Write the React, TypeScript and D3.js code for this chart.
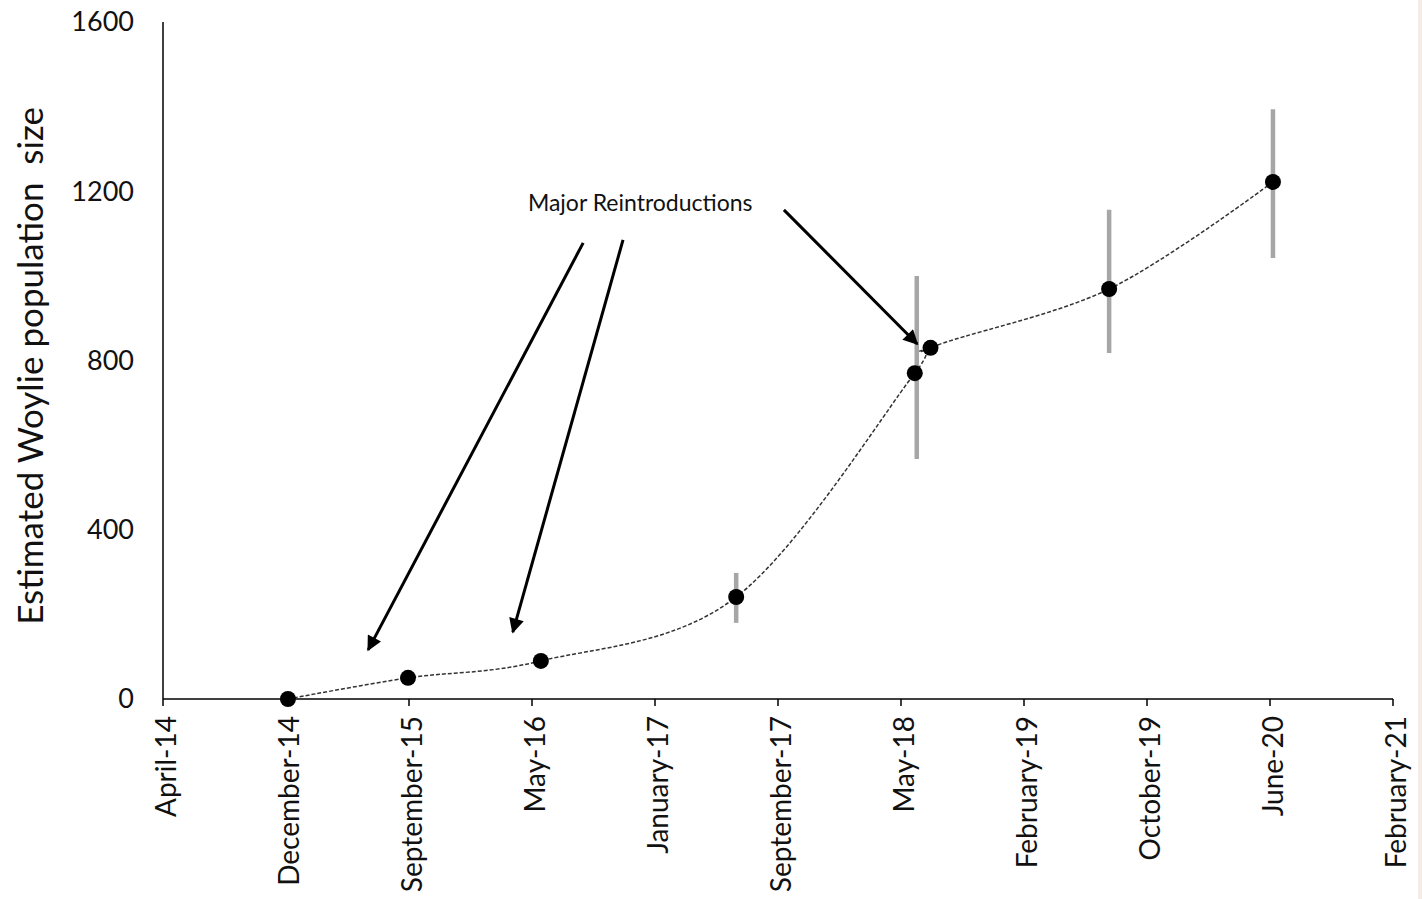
import React from 'react';
import * as d3 from 'd3';

// survey dates and estimates
const surveyDates = ['2014-12-30', '2015-08-31', '2016-05-27', '2017-06-28', '2018-06-26', '2018-07-28', '2019-07-26', '2020-06-23'];
const popEstimates = [0, 50, 90, 241, 770, 830, 969, 1222];
// error bars (null = none drawn)
const ciLow = [null, null, null, 180, 567, null, 818, 1042];
const ciHigh = [null, null, null, 298, 1000, null, 1156, 1394];

const tickDates = ['2014-04-20', '2014-12-26', '2015-09-02', '2016-05-09', '2017-01-14', '2017-09-21', '2018-05-29', '2019-02-03', '2019-10-11', '2020-06-17', '2021-02-22'];
const tickLabels = ['April-14', 'December-14', 'September-15', 'May-16', 'January-17', 'September-17', 'May-18', 'February-19', 'October-19', 'June-20', 'February-21'];
const yTicks = [0, 400, 800, 1200, 1600];

// annotation arrows in data space: [fromDate, fromValue, toDate, toValue]
const arrows: [string, number, string, number][] = [
  ['2016-08-21', 1078, '2015-06-11', 116],
  ['2016-11-10', 1085, '2016-03-31', 158],
  ['2017-10-03', 1156, '2018-07-01', 839],
];
const noteLabel = 'Major Reintroductions';
const noteAt: [string, number] = ['2016-12-15', 1153];

const W = 1422, H = 899;
const font = 'Lato, "Open Sans", sans-serif';
const parse = d3.utcParse('%Y-%m-%d');

export default function App() {
  const x = d3.scaleUtc().domain([parse(tickDates[0])!, parse(tickDates[tickDates.length - 1])!]).range([163, 1393]);
  const y = d3.scaleLinear().domain([0, 1600]).range([699, 22]);

  const pts = surveyDates.map((d, i) => ({ x: x(parse(d)!), y: y(popEstimates[i]), lo: ciLow[i], hi: ciHigh[i] }));
  const line = d3.line<{ x: number; y: number }>().x(d => d.x).y(d => d.y).curve(d3.curveCardinal.tension(0));

  return (
    <div style={{ position: 'absolute', left: 0, top: 0 }}>
      <svg width={W} height={H} style={{ display: 'block', background: '#fff' }} fontFamily={font}>
        <defs>
          <marker id="ah" viewBox="0 0 10 10" refX="9" refY="5" markerWidth="5.5" markerHeight="5" orient="auto" markerUnits="strokeWidth">
            <path d="M0,0 L10,5 L0,10 z" fill="#000" />
          </marker>
        </defs>
        <rect x={1418} y={0} width={4} height={H} fill="#f6ece6" />

        {/* axes */}
        <line x1={163} x2={163} y1={y(1600)} y2={y(0)} stroke="#000" strokeWidth={1.5} />
        <line x1={163} x2={1393} y1={y(0)} y2={y(0)} stroke="#000" strokeWidth={1.5} />
        {tickDates.map((t, i) => {
          const tx = x(parse(t)!);
          return (
            <g key={t}>
              <line x1={tx} x2={tx} y1={y(0)} y2={y(0) + 7} stroke="#000" strokeWidth={1.5} />
              <text transform={`translate(${tx + 3},${y(0) + 17}) rotate(-90)`} textAnchor="end" dy="0.35em" fontSize={28} fill="#111">
                {tickLabels[i]}
              </text>
            </g>
          );
        })}
        {yTicks.map(v => (
          <text key={v} x={134} y={y(v)} dy="0.35em" textAnchor="end" fontSize={27} fill="#111">{v}</text>
        ))}
        <text transform={`translate(43,366) rotate(-90)`} textAnchor="middle" fontSize={35} fill="#111" style={{ whiteSpace: 'pre' }}>
          {'Estimated Woylie population  size'}
        </text>

        {/* smoothed dashed trend */}
        <path d={line(pts) || ''} fill="none" stroke="#333" strokeWidth={1.5} strokeDasharray="4 2" />

        {/* error bars */}
        {pts.map((p, i) => p.lo != null && p.hi != null ? (
          <line key={'e' + i} x1={p.x + (i === 4 ? 2 : 0)} x2={p.x + (i === 4 ? 2 : 0)} y1={y(p.lo)} y2={y(p.hi)} stroke="#a6a6a6" strokeWidth={4.5} />
        ) : null)}

        {pts.map((p, i) => (
          <circle key={'p' + i} cx={p.x} cy={p.y} r={8} fill="#000" />
        ))}

        {/* annotation */}
        {arrows.map((a, i) => (
          <line key={'a' + i} x1={x(parse(a[0])!)} y1={y(a[1])} x2={x(parse(a[2])!)} y2={y(a[3])} stroke="#000" strokeWidth={3} markerEnd="url(#ah)" />
        ))}
        <text x={x(parse(noteAt[0])!)} y={y(noteAt[1])} textAnchor="middle" fontSize={23} fill="#111">{noteLabel}</text>
      </svg>
    </div>
  );
}
